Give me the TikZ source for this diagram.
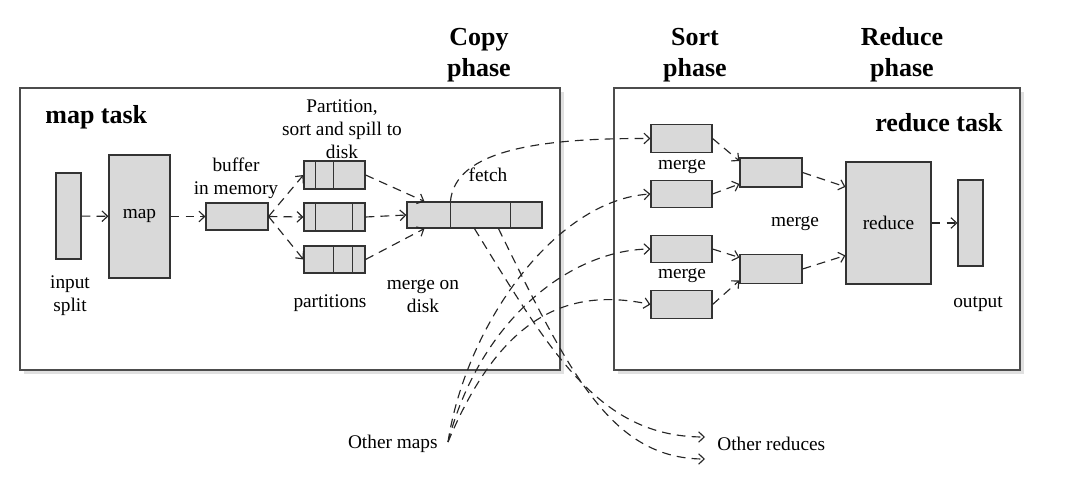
\documentclass[tikz,border=0pt]{standalone}
\usepackage{fontspec}
\setmainfont{Liberation Serif}
\usetikzlibrary{arrows.meta,shadows,calc}

\begin{document}
\begin{tikzpicture}[x=0.02cm,y=-0.02cm]
\tikzset{
  task/.style={draw=black!70, line width=0.7pt, fill=white,
    drop shadow={shadow xshift=2pt, shadow yshift=-2pt, opacity=0.12, fill=black}},
  blk/.style={draw=black!80, line width=0.65pt, fill=black!15, inner sep=0pt},
  sep/.style={draw=black!80, line width=0.65pt},
  lbl/.style={font=\fontsize{11}{13}\selectfont, align=center, inner sep=0pt},
  hdg/.style={font=\fontsize{14.8}{17.6}\selectfont\bfseries, align=center, inner sep=0pt},
  flow/.style={dash pattern=on 5pt off 3.5pt, line width=0.65pt, draw=black!85,
    -{Straight Barb[length=3.2pt,width=6pt]}},
}

\useasboundingbox (0,0) rectangle (1082,500);

%% Task frames
\draw[task] (20,88) rectangle (560,370);
\draw[task] (614,88) rectangle (1020,370);

\node[hdg, anchor=west] (maptask) at (45,117) {map task};
\node[hdg, anchor=east] (redtask) at (1003,123) {reduce task};

%% Phase headings
\node[hdg] (copyph) at (479,55) {Copy\\phase};
\node[hdg] (sortph) at (695,55) {Sort\\phase};
\node[hdg] (redph) at (902,55) {Reduce\\phase};

%% Map side
\node[blk, minimum width=0.5cm, minimum height=1.72cm] (split) at (68.5,216) {};
\node[blk, lbl, minimum width=1.22cm, minimum height=2.46cm] (map) at (139.5,216.5) {map};
\node[blk, minimum width=1.24cm, minimum height=0.54cm] (buf) at (237,216.5) {};
\node[blk, minimum width=1.22cm, minimum height=0.56cm] (part1) at (334.5,175) {};
\node[blk, minimum width=1.22cm, minimum height=0.56cm] (part2) at (334.5,217) {};
\node[blk, minimum width=1.22cm, minimum height=0.54cm] (part3) at (334.5,259.5) {};
\node[blk, minimum width=2.7cm, minimum height=0.52cm] (mdisk) at (474.5,215) {};

\foreach \p/\d in {part1/12, part1/30, part2/12, part2/49, part3/30, part3/49, mdisk/44, mdisk/104}
  \draw[sep] ($(\p.north west)+(\d,0)$) -- ($(\p.south west)+(\d,0)$);

\node[lbl] (splitlbl) at (70,296) {input\\split};
\node[lbl] (buflbl) at (236,178) {buffer\\in memory};
\node[lbl] (spilllbl) at (342,129) {Partition,\\sort and spill to\\disk};
\node[lbl] (partlbl) at (330,303) {partitions};
\node[lbl] (mdisklbl) at (423,296) {merge on\\disk};
\node[lbl] (fetchlbl) at (488,175) {fetch};

%% Reduce side
\foreach \n/\y in {sa/138.5, sb/194, sc/249, sd/304.5}
  \node[blk, minimum width=1.22cm, minimum height=0.55cm] (\n) at (681.5,\y) {};
\node[blk, minimum width=1.24cm, minimum height=0.58cm] (mtop) at (771,172.5) {};
\node[blk, minimum width=1.24cm, minimum height=0.58cm] (mbot) at (771,269) {};
\node[blk, lbl, minimum width=1.7cm, minimum height=2.44cm] (reduce) at (888.5,223) {reduce};
\node[blk, minimum width=0.5cm, minimum height=1.72cm] (out) at (970.5,223) {};

\node[lbl] (mergea) at (682,167) {merge};
\node[lbl] (mergeb) at (682,276) {merge};
\node[lbl] (mergec) at (795,224) {merge};
\node[lbl] (outlbl) at (978,304) {output};

%% Outside
\node[lbl, anchor=east] (omaps) at (438,444) {Other maps};
\node[lbl, anchor=west] (oreds) at (717,444) {Other reduces};
\coordinate (mapsrc) at (448,442);
\coordinate (redA) at (705,437);
\coordinate (redB) at (705,459);

%% Map flow
\draw[flow] (split) -- (map);
\draw[flow] (map) -- (buf);
\foreach \p in {part1,part2,part3}
  \draw[flow] (buf.east) -- (\p.west);
\draw[flow] (part1.east) -- ($(mdisk.north west)+(18,0)$);
\draw[flow] (part2.east) -- (mdisk.west);
\draw[flow] (part3.east) -- ($(mdisk.south west)+(18,0)$);

%% Copy
\draw[flow] ($(mdisk.north west)+(44,0)$) .. controls (455,150) and (540,138) .. (sa.west);
\draw[flow] (mapsrc) .. controls (466,325) and (555,200) .. (sb.west);
\draw[flow] (mapsrc) .. controls (480,320) and (570,250) .. (sc.west);
\draw[flow] (mapsrc) .. controls (497,325) and (560,285) .. (sd.west);
\draw[flow] ($(mdisk.south west)+(68,0)$) .. controls (552,355) and (600,437) .. (redA);
\draw[flow] ($(mdisk.south west)+(92,0)$) .. controls (568,370) and (610,459) .. (redB);

%% Sort and reduce
\draw[flow] (sa.east) -- (mtop.160);
\draw[flow] (sb.east) -- (mtop.200);
\draw[flow] (sc.east) -- (mbot.160);
\draw[flow] (sd.east) -- (mbot.200);
\draw[flow] (mtop.east) -- (reduce.140);
\draw[flow] (mbot.east) -- (reduce.217);
\draw[flow] (reduce) -- (out);
\end{tikzpicture}
\end{document}
